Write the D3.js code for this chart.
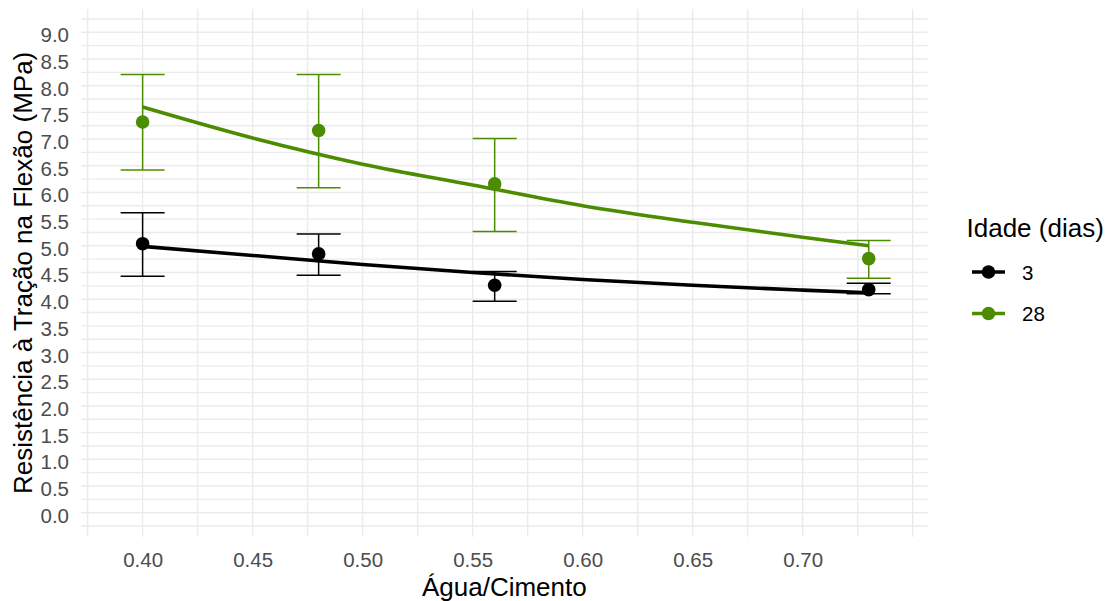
<!DOCTYPE html>
<html>
<head>
<meta charset="utf-8">
<script src="https://cdn.jsdelivr.net/npm/d3@7"></script>
<style>
  body { margin: 0; background: #fff; }
  svg text { font-family: "Liberation Sans", Arial, sans-serif; }
</style>
</head>
<body>
<div id="chart"></div>
<script>
// data
const ratios = [0.40, 0.48, 0.56, 0.73];
const mean3 = [5.04, 4.85, 4.26, 4.18];
const low3 = [4.43, 4.45, 3.96, 4.10];
const high3 = [5.62, 5.22, 4.52, 4.30];
const mean28 = [7.32, 7.16, 6.16, 4.76];
const low28 = [6.42, 6.09, 5.27, 4.39];
const high28 = [8.21, 8.21, 7.01, 5.10];
// fitted curves
const fitX = [0.40, 0.45, 0.50, 0.55, 0.60, 0.65, 0.70, 0.73];
const fit3 = [4.99, 4.82, 4.65, 4.50, 4.37, 4.26, 4.17, 4.12];
const fit28 = [7.60, 7.02, 6.53, 6.14, 5.75, 5.44, 5.16, 5.00];
const xTicks = [0.40, 0.45, 0.50, 0.55, 0.60, 0.65, 0.70];
const yTicks = d3.range(0, 9.01, 0.5);
const ages = ["3", "28"];
const colors = {"3": "#000000", "28": "#4c8c00"};

var W = 1105, H = 601;
var panel = {left: 81, right: 927.7, top: 9, bottom: 536.7};

var svg = d3.select("#chart").append("svg")
  .attr("width", W)
  .attr("height", H);

var x = d3.scaleLinear()
  .domain([0.372, 0.7568])
  .range([panel.left, panel.right]);
var y = d3.scaleLinear()
  .domain([-0.45, 9.437])
  .range([panel.bottom, panel.top]);

// grid (major + minor)
var xGrid = d3.range(0.375, 0.7501, 0.025);
var yGrid = d3.range(-0.25, 9.26, 0.25);
svg.append("g").selectAll("line")
  .data(yGrid)
  .enter().append("line")
    .attr("x1", panel.left).attr("x2", panel.right)
    .attr("y1", d => y(d)).attr("y2", d => y(d))
    .attr("stroke", "#ebebeb")
    .attr("stroke-width", 1.4);
svg.append("g").selectAll("line")
  .data(xGrid)
  .enter().append("line")
    .attr("y1", panel.top).attr("y2", panel.bottom)
    .attr("x1", d => x(d)).attr("x2", d => x(d))
    .attr("stroke", "#ebebeb")
    .attr("stroke-width", 1.4);

// axes
var yAxis = svg.append("g")
  .attr("transform", "translate(" + panel.left + ",0)")
  .call(d3.axisLeft(y).tickValues(yTicks).tickSize(0).tickFormat(d3.format(".1f")));
yAxis.select(".domain").remove();
yAxis.selectAll("text")
  .attr("x", -12)
  .attr("dy", "0.46em")
  .attr("fill", "#4d4d4d")
  .style("font-size", "20.5px");

var xAxis = svg.append("g")
  .attr("transform", "translate(0," + panel.bottom + ")")
  .call(d3.axisBottom(x).tickValues(xTicks).tickSize(0).tickFormat(d3.format(".2f")));
xAxis.select(".domain").remove();
xAxis.selectAll("text")
  .attr("y", 30.5)
  .attr("dy", 0)
  .attr("fill", "#4d4d4d")
  .style("font-size", "20.5px");

// axis titles
svg.append("text")
  .attr("x", (panel.left + panel.right) / 2)
  .attr("y", 596)
  .attr("text-anchor", "middle")
  .style("font-size", "26px")
  .text("Água/Cimento");
svg.append("text")
  .attr("transform", "translate(31.5," + (panel.top + panel.bottom) / 2 + ") rotate(-90)")
  .attr("text-anchor", "middle")
  .style("font-size", "26px")
  .text("Resistência à Tração na Flexão (MPa)");

// series
var series = [
  {age: "3", mean: mean3, low: low3, high: high3, fit: fit3},
  {age: "28", mean: mean28, low: low28, high: high28, fit: fit28}
];
var capHalf = 0.01;

series.forEach(s => {
  var col = colors[s.age];
  var g = svg.append("g");

  // error bars
  var eb = g.selectAll(".eb")
    .data(ratios.map((r, i) => ({r: r, lo: s.low[i], hi: s.high[i]})))
    .enter().append("g");
  eb.append("line")
    .attr("x1", d => x(d.r)).attr("x2", d => x(d.r))
    .attr("y1", d => y(d.lo)).attr("y2", d => y(d.hi))
    .attr("stroke", col).attr("stroke-width", 1.5);
  eb.append("line")
    .attr("x1", d => x(d.r - capHalf)).attr("x2", d => x(d.r + capHalf))
    .attr("y1", d => y(d.hi)).attr("y2", d => y(d.hi))
    .attr("stroke", col).attr("stroke-width", 1.5);
  eb.append("line")
    .attr("x1", d => x(d.r - capHalf)).attr("x2", d => x(d.r + capHalf))
    .attr("y1", d => y(d.lo)).attr("y2", d => y(d.lo))
    .attr("stroke", col).attr("stroke-width", 1.5);

  // fitted curve
  g.append("path")
    .datum(fitX.map((v, i) => [v, s.fit[i]]))
    .attr("fill", "none")
    .attr("stroke", col)
    .attr("stroke-width", 3.6)
    .attr("d", d3.line()
      .curve(d3.curveMonotoneX)
      .x(d => x(d[0]))
      .y(d => y(d[1])));

  // mean points
  g.selectAll("circle")
    .data(ratios.map((r, i) => [r, s.mean[i]]))
    .enter().append("circle")
      .attr("cx", d => x(d[0]))
      .attr("cy", d => y(d[1]))
      .attr("r", 6.8)
      .attr("fill", col);
});

// legend
var legend = svg.append("g");
legend.append("text")
  .attr("x", 966.5)
  .attr("y", 237)
  .style("font-size", "26px")
  .text("Idade (dias)");
var keys = legend.selectAll(".key")
  .data(ages)
  .enter().append("g")
    .attr("transform", (d, i) => "translate(0," + (272 + i * 41.5) + ")");
keys.append("line")
  .attr("x1", 972).attr("x2", 1005)
  .attr("stroke", d => colors[d])
  .attr("stroke-width", 3.6);
keys.append("circle")
  .attr("cx", 988.5)
  .attr("r", 6.8)
  .attr("fill", d => colors[d]);
keys.append("text")
  .attr("x", 1022)
  .attr("y", 7.5)
  .style("font-size", "20.5px")
  .text(d => d);
</script>
</body>
</html>
